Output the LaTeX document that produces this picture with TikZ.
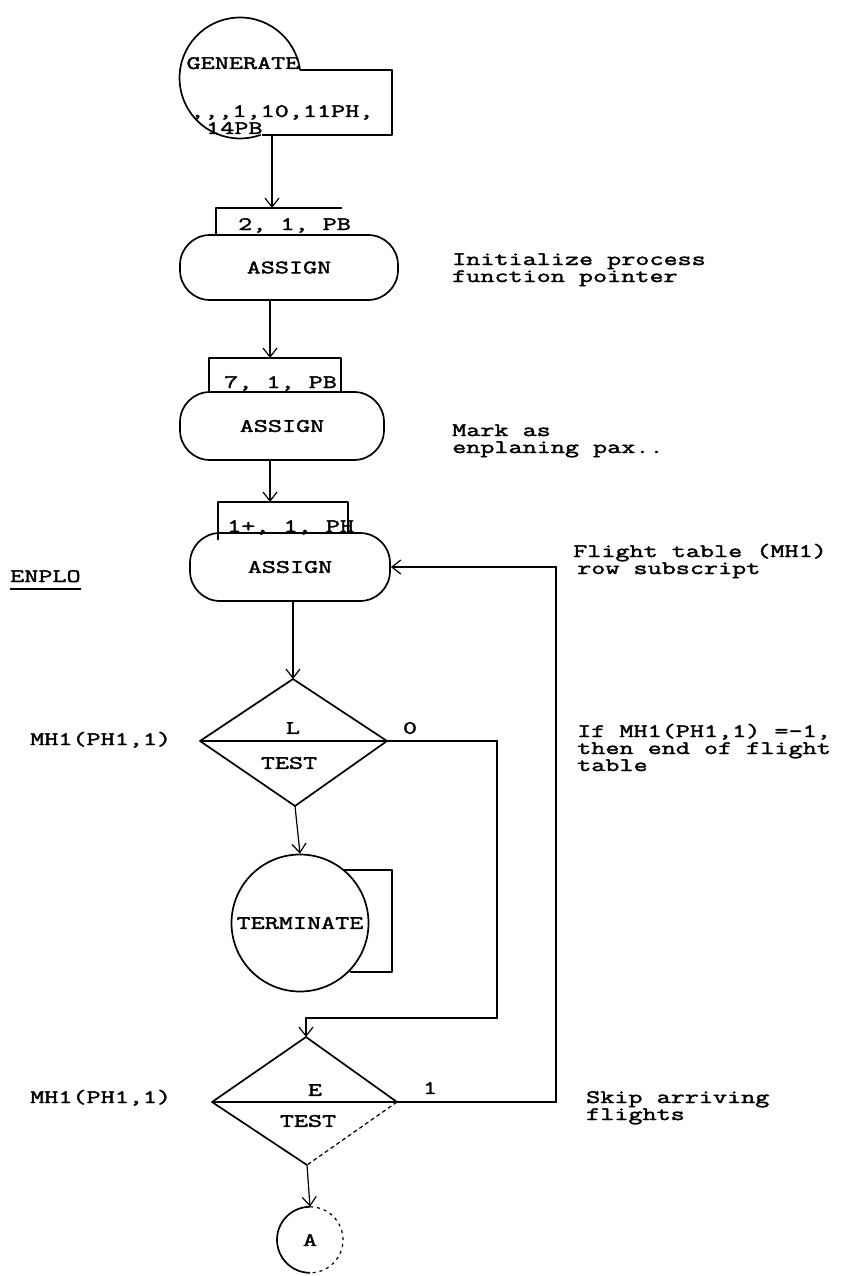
\documentclass[tikz,border=0pt]{standalone}
\usepackage{fontspec}
\usetikzlibrary{arrows.meta,shapes.misc}
\newfontfamily\twfont[FakeStretch=1.44,FakeBold=2]{Latin Modern Mono}
\newcommand\twf{\twfont\fontsize{19}{17}\selectfont}
\begin{document}
\begin{tikzpicture}[x=1pt,y=-1pt,
  tw/.style={font=\twf, inner sep=0pt},
  shp/.style={line width=1.7pt, line join=round},
  conn/.style={line width=1.2pt},
  arr/.style={conn, -{Straight Barb[length=9pt,width=14pt,line width=1.2pt]}},
  pill/.style={draw, shp, rounded corners=30pt, font=\twf, inner sep=0pt}]
\fill[white] (0,0) rectangle (841,1276);
\useasboundingbox (0,0) rectangle (841,1276);

% GENERATE
\coordinate (gc) at (240,78);
\draw[shp] (300,70) arc[start angle=-7.6, end angle=-290, radius=60.5];
\draw[shp] (300,70) -- (392,70) -- (392,135) -- (262,135);
\node[tw, anchor=base] (gent) at (243,69) {GENERATE};
\node[tw, anchor=base west] (genop1) at (190,117) {,,,1,10,11PH,};
\node[tw, anchor=base west] (genop2) at (206,134) {14PB};
\coordinate (genout) at (272,135);

% ASSIGN 1
\coordinate (b1in) at (272,208);
\draw[shp] (216,235) -- (216,208) -- (342,208);
\node[tw, anchor=base west] (op1) at (238,230) {2, 1, PB};
\node[pill, minimum width=218pt, minimum height=65pt] (as1) at (289,267.5) {ASSIGN};
\draw[arr] (genout) -- (b1in);

% ASSIGN 2
\coordinate (b2in) at (270,358);
\draw[shp] (209,392) -- (209,358) -- (341,358) -- (341,392);
\node[tw, anchor=base west] (op2) at (224,388) {7, 1, PB};
\node[pill, minimum width=204pt, minimum height=68pt] (as2) at (282,426) {ASSIGN};
\draw[arr] (as1.south -| b2in) -- (b2in);

% ASSIGN 3
\coordinate (b3in) at (270,502);
\draw[shp] (218,540) -- (218,502) -- (348,502) -- (348,533);
\node[tw, anchor=base west] (op3) at (227,532) {1+, 1, PH};
\node[pill, minimum width=200pt, minimum height=68pt] (as3) at (290,567) {ASSIGN};
\draw[arr] (as2.south -| b3in) -- (b3in);

% TEST 1
\coordinate (d1t) at (293,679);
\coordinate (d1r) at (387,741);
\coordinate (d1b) at (295,806);
\coordinate (d1l) at (200,741);
\draw[shp] (d1t) -- (d1r) -- (d1b) -- (d1l) -- cycle;
\draw[shp] (d1l) -- (d1r);
\node[tw] (l1) at (293,728) {L};
\node[tw] (t1) at (289,763) {TEST};
\draw[arr] (as3.south -| d1t) -- (d1t);

% TERMINATE
\node[draw, shp, circle, minimum size=137pt, inner sep=0pt, font=\twf] (term) at (300,923) {TERMINATE};
\draw[shp] (343,870) -- (392,870) -- (392,972) -- (350,972);
\draw[arr] (d1b) -- (term.north);

% TEST 2
\coordinate (d2t) at (306,1037);
\coordinate (d2r) at (397,1102);
\coordinate (d2b) at (307,1165);
\coordinate (d2l) at (212,1102);
\draw[shp] (d2b) -- (d2l) -- (d2t) -- (d2r);
\draw[conn, dash pattern=on 4pt off 3pt] (d2r) -- (d2b);
\draw[shp] (d2l) -- (d2r);
\node[tw] (e2) at (315,1090) {E};
\node[tw] (t2) at (308,1121) {TEST};

% exit 0 of TEST 1
\coordinate (c0a) at (497,741);
\coordinate (c0b) at (497,1018);
\coordinate (c0c) at (306,1018);
\draw[arr] (d1r) -- (c0a) -- (c0b) -- (c0c) -- (d2t);
\node[tw] (zero) at (410,728) {0};

% loop exit 1 of TEST 2
\coordinate (c1a) at (556,1102);
\coordinate (c1b) at (556,567);
\draw[arr] (d2r) -- (c1a) -- (c1b) -- (as3.east);
\node[tw] (one) at (430,1088) {1};

% connector A
\node[tw, circle, minimum size=66pt] (acir) at (310,1240) {A};
\draw[shp] (acir.north) arc[start angle=-90, end angle=-270, radius=33];
\draw[conn, dash pattern=on 3pt off 4pt] (acir.north) arc[start angle=-90, end angle=90, radius=33];
\draw[arr] (d2b) -- (acir.north);

% left labels
\node[tw, anchor=base west] (enplo) at (10,582) {ENPLO};
\draw[shp] ([yshift=-7pt]enplo.base west) -- ([yshift=-7pt]enplo.base east);
\node[tw, anchor=base west] (mh1a) at (30,745) {MH1(PH1,1)};
\node[tw, anchor=base west] (mh1b) at (30,1103) {MH1(PH1,1)};

% comments
\node[tw, anchor=base west] (c1l1) at (452,265) {Initialize process};
\node[tw, anchor=base west] (c1l2) at (452,282) {function pointer};
\node[tw, anchor=base west] (c2l1) at (452,436) {Mark as};
\node[tw, anchor=base west] (c2l2) at (452,453) {enplaning pax..};
\node[tw, anchor=base west] (c3l1) at (573,557) {Flight table (MH1)};
\node[tw, anchor=base west] (c3l2) at (577,574) {row subscript};
\node[tw, anchor=base west] (c4l1) at (577,737) {If MH1(PH1,1) =-1,};
\node[tw, anchor=base west] (c4l2) at (577,754) {then end of flight};
\node[tw, anchor=base west] (c4l3) at (577,771) {table};
\node[tw, anchor=base west] (c5l1) at (586,1103) {Skip arriving};
\node[tw, anchor=base west] (c5l2) at (586,1120) {flights};
\end{tikzpicture}
\end{document}
